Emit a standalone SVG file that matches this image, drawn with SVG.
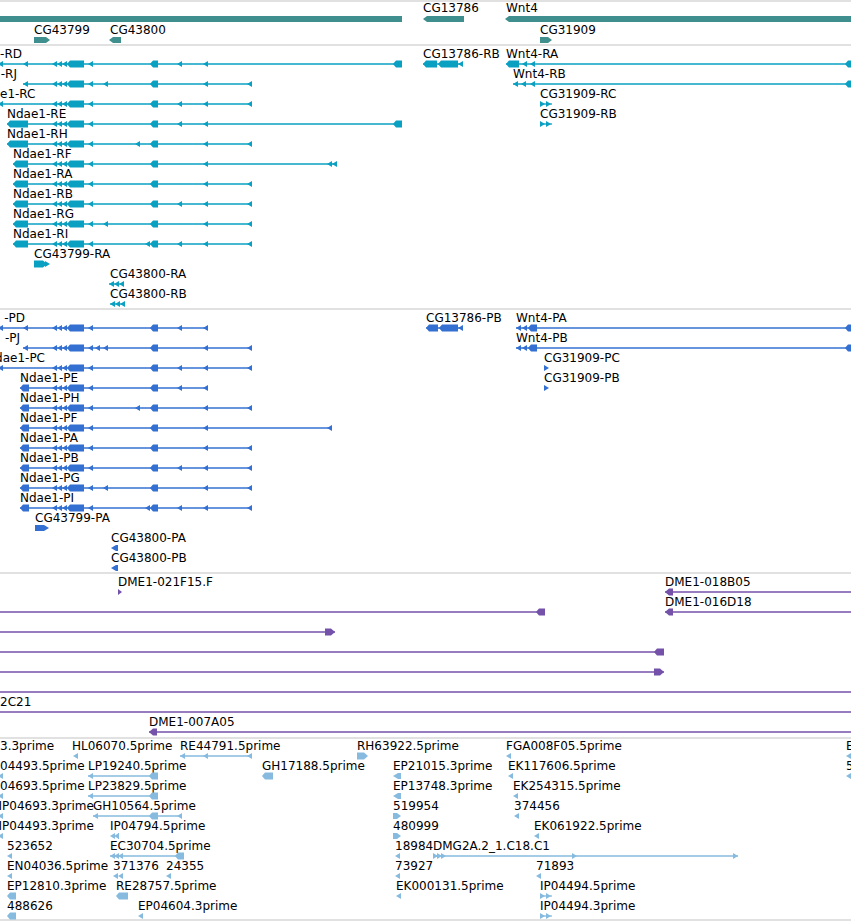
<svg xmlns="http://www.w3.org/2000/svg" xmlns:xlink="http://www.w3.org/1999/xlink" width="851" height="921" viewBox="0 0 851 921">
<style>
text{font-family:"DejaVu Sans","Liberation Sans",sans-serif;font-size:12px;fill:#000}
.sep{stroke:#c4c4c4;stroke-width:1.2}
.g{fill:#3f8f8f}
.r{fill:#0aa0c2}.rl{stroke:#0aa0c2;stroke-width:1.3;fill:none}
.p{fill:#3370d2}.pl{stroke:#3370d2;stroke-width:1.3;fill:none}
.v{fill:#7452aa}.vl{stroke:#7452aa;stroke-width:1.3;fill:none}
.e{fill:#86bbdf}.el{stroke:#86bbdf;stroke-width:1.3;fill:none}
</style>
<defs>
<path id="tl" d="M0,0L5,-3V3Z"/>
<path id="tr" d="M5,0L0,-3V3Z"/>
<path id="b9" d="M0,0L3,-3.5H9V3.5H3Z"/>
<path id="b15" d="M0,0L3,-3.5H15V3.5H3Z"/>
<path id="b21" d="M0,0L3,-3.5H21V3.5H3Z"/>
<path id="core" d="M52,0L57,-3V3ZM57,0L62,-3V3ZM62,0L67,-3V3ZM67,0L70,-3.5H84V3.5H70ZM88,0L93,-3V3ZM150,0L153,-3.5H158V3.5H153Z"/>
</defs>

<g id="separators">
<path class="sep" d="M0,1H851M0,45H851M0,309H851M0,573H851M0,738H851M0,920H851"/>
</g>

<g id="genes">
<g id="gene-Ndae1" class="g"><rect x="0" y="16" width="402" height="6"/></g>
<g id="gene-CG43799" class="g"><text x="34" y="34">CG43799</text><path d="M34,37H46L50,40L46,43H34Z"/></g>
<g id="gene-CG43800" class="g"><text x="110" y="34">CG43800</text><path d="M109,40L113,37H121V43H113Z"/></g>
<g id="gene-CG13786" class="g"><text x="423" y="12">CG13786</text><path d="M423,19L427,16H464V22H427Z"/></g>
<g id="gene-Wnt4" class="g"><text x="506" y="12">Wnt4</text><path d="M505,19L509,16H851V22H509Z"/></g>
<g id="gene-CG31909" class="g"><text x="540" y="34">CG31909</text><path d="M540,37H548L552,40L548,43H540Z"/></g>
</g>

<g id="rna">
<g id="Ndae1-RD" class="r"><text x="22" y="58" text-anchor="end">-RD</text><path class="rl" d="M0,64H402"/><use href="#tl" x="-2" y="64"/><use href="#tl" x="23" y="64"/><use href="#core" x="0" y="64"/><use href="#tl" x="177" y="64"/><use href="#tl" x="203" y="64"/><use href="#b9" x="393" y="64"/></g>
<g id="Ndae1-RJ" class="r"><text x="17" y="78" text-anchor="end">-RJ</text><path class="rl" d="M23,84H252"/><use href="#tl" x="23" y="84"/><use href="#core" x="0" y="84"/><use href="#tl" x="103" y="84"/><use href="#tl" x="203" y="84"/><use href="#tl" x="247" y="84"/></g>
<g id="Ndae1-RC" class="r"><text x="0" y="98">e1-RC</text><path class="rl" d="M0,104H252"/><use href="#tl" x="-2" y="104"/><use href="#core" x="0" y="104"/><use href="#tl" x="177" y="104"/><use href="#tl" x="203" y="104"/><use href="#tl" x="247" y="104"/></g>
<g id="Ndae1-RE" class="r"><text x="7" y="118">Ndae1-RE</text><path class="rl" d="M7,124H402"/><use href="#b21" x="7" y="124"/><use href="#core" x="0" y="124"/><use href="#tl" x="177" y="124"/><use href="#tl" x="203" y="124"/><use href="#b9" x="393" y="124"/></g>
<g id="Ndae1-RH" class="r"><text x="7" y="138">Ndae1-RH</text><path class="rl" d="M7,144H252"/><use href="#b21" x="7" y="144"/><use href="#core" x="0" y="144"/><use href="#tl" x="135" y="144"/><use href="#tl" x="203" y="144"/><use href="#tl" x="247" y="144"/></g>
<g id="Ndae1-RF" class="r"><text x="13" y="158">Ndae1-RF</text><path class="rl" d="M13,164H337"/><use href="#b15" x="13" y="164"/><use href="#core" x="0" y="164"/><use href="#tl" x="203" y="164"/><use href="#tl" x="327" y="164"/><use href="#tl" x="332" y="164"/></g>
<g id="Ndae1-RA" class="r"><text x="13" y="178">Ndae1-RA</text><path class="rl" d="M13,184H252"/><use href="#b15" x="13" y="184"/><use href="#core" x="0" y="184"/><use href="#tl" x="203" y="184"/><use href="#tl" x="247" y="184"/></g>
<g id="Ndae1-RB" class="r"><text x="13" y="198">Ndae1-RB</text><path class="rl" d="M13,204H252"/><use href="#b15" x="13" y="204"/><use href="#core" x="0" y="204"/><use href="#tl" x="177" y="204"/><use href="#tl" x="203" y="204"/><use href="#tl" x="247" y="204"/></g>
<g id="Ndae1-RG" class="r"><text x="13" y="218">Ndae1-RG</text><path class="rl" d="M13,224H252"/><use href="#b15" x="13" y="224"/><use href="#core" x="0" y="224"/><use href="#tl" x="103" y="224"/><use href="#tl" x="203" y="224"/><use href="#tl" x="247" y="224"/></g>
<g id="Ndae1-RI" class="r"><text x="13" y="238">Ndae1-RI</text><path class="rl" d="M13,244H252"/><use href="#b15" x="13" y="244"/><use href="#core" x="0" y="244"/><use href="#tl" x="145" y="244"/><use href="#tl" x="177" y="244"/><use href="#tl" x="203" y="244"/><use href="#tl" x="247" y="244"/></g>
<g id="CG43799-RA" class="r"><text x="34" y="258">CG43799-RA</text><path d="M34,260.5H43L47,264L43,267.5H34Z"/><use href="#tr" x="45" y="264"/></g>
<g id="CG43800-RA" class="r"><text x="110" y="278">CG43800-RA</text><path class="rl" d="M109,284H124"/><use href="#tl" x="109" y="284"/><use href="#tl" x="114" y="284"/><use href="#tl" x="119" y="284"/></g>
<g id="CG43800-RB" class="r"><text x="110" y="298">CG43800-RB</text><path class="rl" d="M110,304H125"/><use href="#tl" x="110" y="304"/><use href="#tl" x="115" y="304"/><use href="#tl" x="120" y="304"/></g>
<g id="CG13786-RB" class="r"><text x="423" y="58">CG13786-RB</text><path class="rl" d="M423,64H463"/><path d="M423,64L426,60.5H437V67.5H426ZM438,64L441,60.5H458V67.5H441Z"/><use href="#tl" x="458" y="64"/></g>
<g id="Wnt4-RA" class="r"><text x="506" y="58">Wnt4-RA</text><path class="rl" d="M506,64H851"/><path d="M506,64L509,60.5H519V67.5H509Z"/><use href="#tl" x="522" y="64"/><use href="#tl" x="530" y="64"/><use href="#b9" x="845" y="64"/></g>
<g id="Wnt4-RB" class="r"><text x="513" y="78">Wnt4-RB</text><path class="rl" d="M513,84H851"/><use href="#tl" x="513" y="84"/><use href="#tl" x="521" y="84"/><use href="#tl" x="530" y="84"/><use href="#b9" x="845" y="84"/></g>
<g id="CG31909-RC" class="r"><text x="540" y="98">CG31909-RC</text><path class="rl" d="M540,104H552"/><use href="#tr" x="540" y="104"/><use href="#tr" x="546" y="104"/></g>
<g id="CG31909-RB" class="r"><text x="540" y="118">CG31909-RB</text><path class="rl" d="M540,124H552"/><use href="#tr" x="540" y="124"/><use href="#tr" x="546" y="124"/></g>
</g>

<g id="protein">
<g id="Ndae1-PD" class="p"><text x="25" y="322" text-anchor="end">-PD</text><path class="pl" d="M0,328H207"/><use href="#tl" x="-2" y="328"/><use href="#tl" x="23" y="328"/><use href="#core" x="0" y="328"/><use href="#tl" x="177" y="328"/><use href="#tl" x="203" y="328"/></g>
<g id="Ndae1-PJ" class="p"><text x="20" y="342" text-anchor="end">-PJ</text><path class="pl" d="M23,348H252"/><use href="#tl" x="23" y="348"/><use href="#core" x="0" y="348"/><use href="#tl" x="95" y="348"/><use href="#tl" x="103" y="348"/><use href="#tl" x="203" y="348"/><use href="#tl" x="247" y="348"/></g>
<g id="Ndae1-PC" class="p"><text x="45" y="362" text-anchor="end">dae1-PC</text><path class="pl" d="M0,368H252"/><use href="#tl" x="-2" y="368"/><use href="#core" x="0" y="368"/><use href="#tl" x="177" y="368"/><use href="#tl" x="203" y="368"/><use href="#tl" x="247" y="368"/></g>
<g id="Ndae1-PE" class="p"><text x="20" y="382">Ndae1-PE</text><path class="pl" d="M20,388H207"/><use href="#b9" x="20" y="388"/><use href="#core" x="0" y="388"/><use href="#tl" x="177" y="388"/><use href="#tl" x="203" y="388"/></g>
<g id="Ndae1-PH" class="p"><text x="20" y="402">Ndae1-PH</text><path class="pl" d="M20,408H252"/><use href="#b9" x="20" y="408"/><use href="#core" x="0" y="408"/><use href="#tl" x="135" y="408"/><use href="#tl" x="203" y="408"/><use href="#tl" x="247" y="408"/></g>
<g id="Ndae1-PF" class="p"><text x="20" y="422">Ndae1-PF</text><path class="pl" d="M20,428H332"/><use href="#b9" x="20" y="428"/><use href="#core" x="0" y="428"/><use href="#tl" x="203" y="428"/><use href="#tl" x="327" y="428"/></g>
<g id="Ndae1-PA" class="p"><text x="20" y="442">Ndae1-PA</text><path class="pl" d="M20,448H252"/><use href="#b9" x="20" y="448"/><use href="#core" x="0" y="448"/><use href="#tl" x="203" y="448"/><use href="#tl" x="247" y="448"/></g>
<g id="Ndae1-PB" class="p"><text x="20" y="462">Ndae1-PB</text><path class="pl" d="M20,468H252"/><use href="#b9" x="20" y="468"/><use href="#core" x="0" y="468"/><use href="#tl" x="177" y="468"/><use href="#tl" x="203" y="468"/><use href="#tl" x="247" y="468"/></g>
<g id="Ndae1-PG" class="p"><text x="20" y="482">Ndae1-PG</text><path class="pl" d="M20,488H252"/><use href="#b9" x="20" y="488"/><use href="#core" x="0" y="488"/><use href="#tl" x="103" y="488"/><use href="#tl" x="203" y="488"/><use href="#tl" x="247" y="488"/></g>
<g id="Ndae1-PI" class="p"><text x="20" y="502">Ndae1-PI</text><path class="pl" d="M20,508H252"/><use href="#b9" x="20" y="508"/><use href="#core" x="0" y="508"/><use href="#tl" x="145" y="508"/><use href="#tl" x="177" y="508"/><use href="#tl" x="203" y="508"/><use href="#tl" x="247" y="508"/></g>
<g id="CG43799-PA" class="p"><text x="35" y="522">CG43799-PA</text><path d="M35,525H44L49,528L44,531H35Z"/></g>
<g id="CG43800-PA" class="p"><text x="111" y="542">CG43800-PA</text><path d="M111,548L116,545H118V551H116Z"/></g>
<g id="CG43800-PB" class="p"><text x="111" y="562">CG43800-PB</text><path d="M111,568L116,565H118V571H116Z"/></g>
<g id="CG13786-PB" class="p"><text x="426" y="322">CG13786-PB</text><path class="pl" d="M426,328H463"/><path d="M426,328L429,324.5H438V331.5H429ZM439,328L442,324.5H458V331.5H442Z"/><use href="#tl" x="458" y="328"/></g>
<g id="Wnt4-PA" class="p"><text x="516" y="322">Wnt4-PA</text><path class="pl" d="M516,328H851"/><use href="#tl" x="516" y="328"/><use href="#tl" x="522" y="328"/><use href="#b9" x="528" y="328"/><use href="#b9" x="845" y="328"/></g>
<g id="Wnt4-PB" class="p"><text x="516" y="342">Wnt4-PB</text><path class="pl" d="M516,348H851"/><use href="#tl" x="516" y="348"/><use href="#tl" x="522" y="348"/><use href="#b9" x="528" y="348"/><use href="#b9" x="845" y="348"/></g>
<g id="CG31909-PC" class="p"><text x="544" y="362">CG31909-PC</text><use href="#tr" x="544" y="368"/></g>
<g id="CG31909-PB" class="p"><text x="544" y="382">CG31909-PB</text><use href="#tr" x="544" y="388"/></g>
</g>

<g id="clones">
<g id="DME1-021F15.F" class="v"><text x="118" y="586">DME1-021F15.F</text><path d="M118,589L122,592L118,595Z"/></g>
<g id="DME1-018B05" class="v"><text x="665" y="586">DME1-018B05</text><path class="vl" d="M665,592H851"/><path d="M665,592L669,588.5H673V595.5H669Z"/></g>
<g id="DME1-016D18" class="v"><text x="665" y="606">DME1-016D18</text><path class="vl" d="M665,612H851"/><path d="M665,612L669,608.5H673V615.5H669Z"/></g>
<g id="clone-612" class="v"><path class="vl" d="M0,612H545"/><path d="M536,612L539,608.5H545V615.5H539Z"/></g>
<g id="clone-632" class="v"><path class="vl" d="M0,632H335"/><path d="M325,628.5H331L335,632L331,635.5H325Z"/></g>
<g id="clone-652" class="v"><path class="vl" d="M0,652H664"/><path d="M654,652L657,648.5H664V655.5H657Z"/></g>
<g id="clone-672" class="v"><path class="vl" d="M0,672H664"/><path d="M654,668.5H660L664,672L660,675.5H654Z"/></g>
<g id="clone-692" class="v"><path class="vl" d="M0,692H851"/></g>
<g id="clone-2C21" class="v"><text x="0" y="706">2C21</text><path class="vl" d="M0,712H851"/></g>
<g id="DME1-007A05" class="v"><text x="149" y="726">DME1-007A05</text><path class="vl" d="M149,732H851"/><path d="M149,732L153,728.5H157V735.5H153Z"/></g>
</g>

<g id="ests" class="e">
<g id="est-3.3prime"><text x="0" y="750">3.3prime</text></g>
<g id="HL06070.5prime"><text x="72" y="750">HL06070.5prime</text><use href="#tl" x="73" y="756"/></g>
<g id="RE44791.5prime"><text x="180" y="750">RE44791.5prime</text><path class="el" d="M180,756H252"/><use href="#tl" x="180" y="756"/><use href="#tl" x="203" y="756"/><use href="#tl" x="247" y="756"/></g>
<g id="RH63922.5prime"><text x="357" y="750">RH63922.5prime</text><path d="M357,752.5H364L368,756L364,759.5H357Z"/></g>
<g id="FGA008F05.5prime"><text x="506" y="750">FGA008F05.5prime</text><use href="#tl" x="506" y="756"/></g>
<g id="est-E"><text x="846" y="750">E</text><use href="#tl" x="846" y="756"/></g>

<g id="est-04493.5prime"><text x="0" y="770">04493.5prime</text><use href="#tl" x="-2" y="776"/></g>
<g id="LP19240.5prime"><text x="88" y="770">LP19240.5prime</text><path class="el" d="M88,776H157"/><use href="#tl" x="88" y="776"/><use href="#b9" x="149" y="776"/></g>
<g id="GH17188.5prime"><text x="262" y="770">GH17188.5prime</text><path d="M262,776L265,772.5H273V779.5H265Z"/></g>
<g id="EP21015.3prime"><text x="393" y="770">EP21015.3prime</text><path d="M393,776L398,773H401V779H398Z"/></g>
<g id="EK117606.5prime"><text x="508" y="770">EK117606.5prime</text><use href="#tl" x="508" y="776"/></g>
<g id="est-5"><text x="846" y="770">5</text><use href="#tl" x="846" y="776"/></g>

<g id="est-04693.5prime"><text x="0" y="790">04693.5prime</text><use href="#tl" x="-2" y="796"/></g>
<g id="LP23829.5prime"><text x="88" y="790">LP23829.5prime</text><path class="el" d="M88,796H157"/><use href="#tl" x="88" y="796"/><use href="#b9" x="149" y="796"/></g>
<g id="EP13748.3prime"><text x="393" y="790">EP13748.3prime</text><path d="M393,796L398,793H401V799H398Z"/></g>
<g id="EK254315.5prime"><text x="513" y="790">EK254315.5prime</text><use href="#tl" x="513" y="796"/></g>

<g id="IP04693.3prime"><text x="-1.5" y="810">IP04693.3prime</text><use href="#tl" x="-2" y="816"/></g>
<g id="GH10564.5prime"><text x="93" y="810">GH10564.5prime</text><path class="el" d="M93,816H182"/><use href="#tl" x="93" y="816"/><use href="#b9" x="149" y="816"/><use href="#tl" x="177" y="816"/></g>
<g id="est-519954"><text x="393" y="810">519954</text><path d="M393,813H397L401,816L397,819H393Z"/></g>
<g id="est-374456"><text x="514" y="810">374456</text><use href="#tl" x="514" y="816"/></g>

<g id="IP04493.3prime"><text x="-1.5" y="830">IP04493.3prime</text><use href="#tl" x="-2" y="836"/></g>
<g id="IP04794.5prime"><text x="110" y="830">IP04794.5prime</text><use href="#tl" x="110" y="836"/><use href="#tl" x="114" y="836"/><path d="M118,833H119V839H118Z"/></g>
<g id="est-480999"><text x="393" y="830">480999</text><path d="M393,833H397L401,836L397,839H393Z"/></g>
<g id="EK061922.5prime"><text x="534" y="830">EK061922.5prime</text><use href="#tl" x="534" y="836"/></g>

<g id="est-523652"><text x="7" y="850">523652</text><use href="#tl" x="7" y="856"/></g>
<g id="EC30704.5prime"><text x="110" y="850">EC30704.5prime</text><path class="el" d="M110,856H183"/><use href="#tl" x="110" y="856"/><use href="#tl" x="114" y="856"/><use href="#tl" x="118" y="856"/><use href="#b9" x="175" y="856"/></g>
<g id="est-18984"><text x="395" y="850">18984</text><use href="#tl" x="395" y="856"/></g>
<g id="DMG2A.2_1.C18.C1"><text x="433" y="850">DMG2A.2_1.C18.C1</text><path class="el" d="M433,856H738"/><use href="#tr" x="433" y="856"/><use href="#tr" x="437" y="856"/><use href="#tr" x="441" y="856"/><use href="#tr" x="572" y="856"/><use href="#tr" x="733" y="856"/></g>

<g id="EN04036.5prime"><text x="7" y="870">EN04036.5prime</text><use href="#tl" x="7" y="876"/></g>
<g id="est-371376"><text x="113" y="870">371376</text><use href="#tl" x="113" y="876"/><use href="#tl" x="118" y="876"/></g>
<g id="est-24355"><text x="166" y="870">24355</text><use href="#tl" x="166" y="876"/></g>
<g id="est-73927"><text x="395" y="870">73927</text><use href="#tl" x="395" y="876"/></g>
<g id="est-71893"><text x="536" y="870">71893</text><use href="#tl" x="536" y="876"/></g>

<g id="EP12810.3prime"><text x="7" y="890">EP12810.3prime</text><path d="M7,896L10,892.5H16V899.5H10Z"/></g>
<g id="RE28757.5prime"><text x="116" y="890">RE28757.5prime</text><path d="M116,896L119,892.5H128V899.5H119Z"/></g>
<g id="EK000131.5prime"><text x="396" y="890">EK000131.5prime</text><use href="#tl" x="396" y="896"/></g>
<g id="IP04494.5prime"><text x="540" y="890">IP04494.5prime</text><path class="el" d="M540,896H552"/><use href="#tr" x="540" y="896"/><use href="#tr" x="546" y="896"/></g>

<g id="est-488626"><text x="7" y="910">488626</text><path d="M7,916L10,912.5H16V919.5H10Z"/></g>
<g id="EP04604.3prime"><text x="138" y="910">EP04604.3prime</text><use href="#tl" x="138" y="916"/></g>
<g id="IP04494.3prime"><text x="540" y="910">IP04494.3prime</text><path class="el" d="M540,916H552"/><use href="#tr" x="540" y="916"/><use href="#tr" x="546" y="916"/></g>
</g>
</svg>
